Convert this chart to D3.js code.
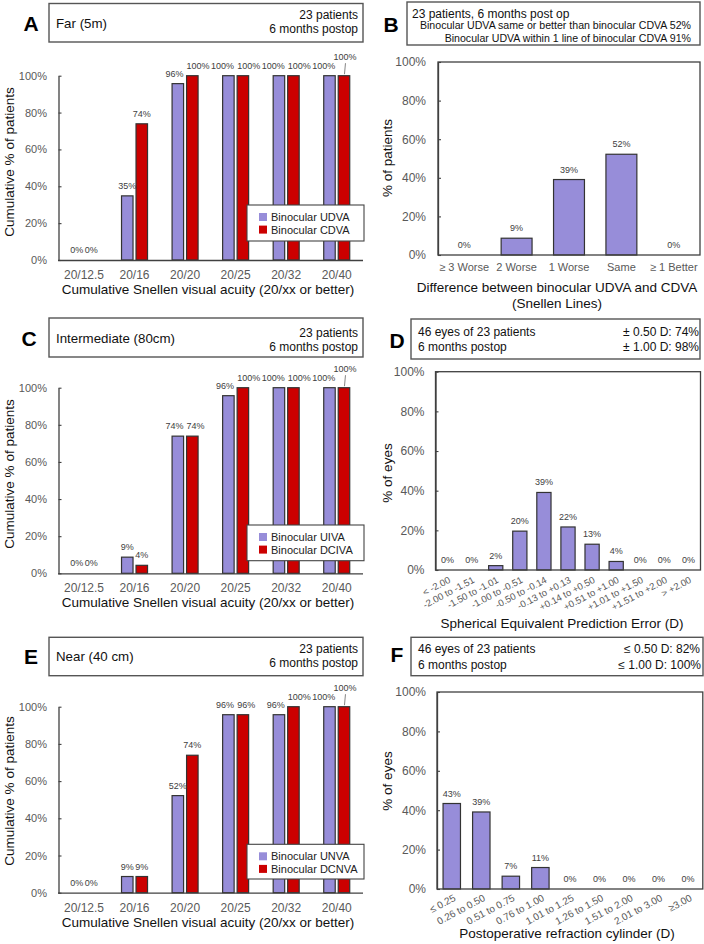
<!DOCTYPE html>
<html><head><meta charset="utf-8">
<script src="https://cdn.jsdelivr.net/npm/d3@7"></script>
<style>
body{margin:0;background:#fff}
svg{display:block}
text{font-family:"Liberation Sans",Arial,Helvetica,sans-serif}
</style></head><body><svg id="c" width="704" height="944"></svg>
<script>
// ---------------- DATA ----------------
const snellenCats = ["20/12.5","20/16","20/20","20/25","20/32","20/40"];
const farUDVA   = [0, 34.8, 95.7, 100, 100, 100];
const farCDVA   = [0, 73.9, 100, 100, 100, 100];
const intUIVA   = [0, 8.7, 73.9, 95.7, 100, 100];
const intDCIVA  = [0, 4.3, 73.9, 100, 100, 100];
const nearUNVA  = [0, 8.7, 52.2, 95.7, 95.7, 100];
const nearDCNVA = [0, 8.7, 73.9, 95.7, 100, 100];

const diffCats = ["\u2265 3 Worse","2 Worse","1 Worse","Same","\u2265 1 Better"];
const diffVals = [0, 8.7, 39.1, 52.2, 0];

const seCats = ["< -2.00","-2.00 to -1.51","-1.50 to -1.01","-1.00 to -0.51","-0.50 to -0.14","-0.13 to +0.13","+0.14 to +0.50","+0.51 to +1.00","+1.01 to +1.50","+1.51 to +2.00","> +2.00"];
const seVals = [0, 0, 2.2, 19.6, 39.1, 21.7, 13.0, 4.3, 0, 0, 0];

const cylCats = ["\u2264 0.25","0.26 to 0.50","0.51 to 0.75","0.76 to 1.00","1.01 to 1.25","1.26 to 1.50","1.51 to 2.00","2.01 to 3.00","\u22653.00"];
const cylVals = [43.4, 39.1, 6.5, 10.9, 0, 0, 0, 0, 0];

const yTicks = [0, 20, 40, 60, 80, 100];

const legendA = ["Binocular UDVA", "Binocular CDVA"];
const legendC = ["Binocular UIVA", "Binocular DCIVA"];
const legendE = ["Binocular UNVA", "Binocular DCNVA"];

const headA = ["Far (5m)", "23 patients", "6 months postop"];
const headC = ["Intermediate (80cm)", "23 patients", "6 months postop"];
const headE = ["Near (40 cm)", "23 patients", "6 months postop"];
const headB = ["23 patients, 6 months post op", "Binocular UDVA same or better than binocular CDVA 52%", "Binocular UDVA within 1 line of binocular CDVA 91%"];
const headD = ["46 eyes of 23 patients", "6 months postop", "\u00b1 0.50 D: 74%", "\u00b1 1.00 D: 98%"];
const headF = ["46 eyes of 23 patients", "6 months postop", "\u2264 0.50 D: 82%", "\u2264 1.00 D: 100%"];

const xTitleSnellen = "Cumulative Snellen visual acuity (20/xx or better)";
const yTitleCum = "Cumulative % of patients";

// ---------------- STYLE ----------------
const PURPLE = "#978DD9", RED = "#CC0000", BAR_STROKE = "#333333";
const AXIS = "#404040", TICK_TXT = "#595959", LBL = "#404040", TITLE = "#111111";

const svg = d3.select("#c");
svg.append("rect").attr("width", 704).attr("height", 944).attr("fill", "#fff");

const fmt = v => Math.round(v) + "%";
const estW = t => ((t.length - 1) * 0.556 + 0.889) * 9;

function txt(x, y, s, size, anchor, fill, weight) {
  return svg.append("text").attr("x", x).attr("y", y).attr("font-size", size)
    .attr("text-anchor", anchor || "start").attr("fill", fill || TITLE)
    .attr("font-weight", weight || "normal").text(s);
}
function vlabel(x, y, s, anchor) { return txt(x, y, s, 9, anchor, LBL); }

function box(x0, y0, x1, y1, sw, stroke) {
  svg.append("rect").attr("x", x0).attr("y", y0).attr("width", x1 - x0).attr("height", y1 - y0)
    .attr("fill", "#fff").attr("stroke", stroke || "#555").attr("stroke-width", sw || 1.4);
}

function styleAxis(g, size) {
  g.attr("font-family", null).attr("font-size", null);
  g.select(".domain").attr("stroke", AXIS).attr("stroke-width", 1.3);
  g.selectAll(".tick line").attr("stroke", AXIS).attr("stroke-width", 1.1);
  g.selectAll(".tick text").attr("fill", TICK_TXT).attr("font-size", size);
}

function yTitle(x, y, s) {
  svg.append("text").attr("transform", `translate(${x},${y}) rotate(-90)`)
    .attr("text-anchor", "middle").attr("font-size", 13.5).attr("fill", TITLE).text(s);
}

// ---------------- LEFT: grouped cumulative charts ----------------
function groupedPanel(p) {
  // header
  txt(p.letterX, p.letterY, p.letter, 21, "middle", "#000", "bold");
  box(49, p.boxTop, 363, p.boxBot);
  txt(56, p.leftBase, p.head[0], 13.3);
  txt(358, p.r1, p.head[1], 12, "end");
  txt(358, p.r2, p.head[2], 12, "end");

  const y = d3.scaleLinear().domain([0, 100]).range([p.y0, p.y100]);
  const x = d3.scaleBand().domain(snellenCats).range([58.7, 362]);
  const xs = d3.scaleBand().domain([0, 1]).range([-13, 13]).paddingInner(0.207);
  const series = [p.s1, p.s2], colors = [PURPLE, RED];

  series.forEach((s, k) => {
    svg.append("g").selectAll("rect").data(snellenCats.map((c, i) => ({ c, v: s[i] })).filter(d => d.v > 0))
      .join("rect")
      .attr("x", d => x(d.c) + x.bandwidth() / 2 + xs(k))
      .attr("y", d => y(d.v))
      .attr("width", xs.bandwidth())
      .attr("height", d => p.y0 - y(d.v))
      .attr("fill", colors[k]).attr("stroke", BAR_STROKE).attr("stroke-width", 1.2);
  });

  const gy = svg.append("g").attr("transform", "translate(58.5,0)")
    .call(d3.axisLeft(y).tickValues(yTicks).tickFormat(d => d + "%").tickSizeInner(-3).tickSizeOuter(0).tickPadding(11.5));
  styleAxis(gy, 11);
  const gx = svg.append("g").attr("transform", `translate(0,${p.y0})`)
    .call(d3.axisBottom(x).tickSize(0).tickPadding(10.5));
  styleAxis(gx, 12);
  gx.select(".domain").attr("d", `M58,0.5H363`);

  // value labels
  const n = snellenCats.length;
  snellenCats.forEach((cat, i) => {
    const c = x(cat) + x.bandwidth() / 2;
    const a = p.s1[i], b = p.s2[i];
    const xa = c + xs(0) + xs.bandwidth() / 2, xb = c + xs(1) + xs.bandwidth() / 2;
    const ya = y(a) - 7, yb = y(b) - 7;
    const ta = fmt(a), tb = fmt(b);
    const collide = (estW(ta) + estW(tb)) / 2 > (xb - xa) - 1 && Math.abs(ya - yb) < 9;
    if (i === n - 1) {
      vlabel(c - 1.5, ya, ta, "end");
      const ry = y(b) - 16;
      vlabel(xb + 1, ry, tb, "middle");
      svg.append("line").attr("x1", xb + 1.5).attr("y1", ry + 3.5).attr("x2", xb + 0.5).attr("y2", y(b) - 1.5)
        .attr("stroke", "#666").attr("stroke-width", 0.8);
    } else if (collide) {
      vlabel(c - 1.5, ya, ta, "end");
      vlabel(c + 1.5, yb, tb, "start");
    } else {
      vlabel(xa, ya, ta, "middle");
      vlabel(xb, yb, tb, "middle");
    }
  });

  // legend
  const lt = p.legTop;
  box(247, lt, 364, lt + p.legH, 1.1, "#444");
  p.legend.forEach((s, k) => {
    const yy = lt + 12 + k * 12.6;
    svg.append("rect").attr("x", 259).attr("y", yy - 4).attr("width", 8).attr("height", 8).attr("fill", colors[k]);
    txt(271, yy + 4, s, 11, "start", "#222");
  });

  txt(208, p.y0 + 34, xTitleSnellen, 13.5, "middle");
  yTitle(13.7, p.yTitleY, yTitleCum);
}

groupedPanel({ letter: "A", letterX: 31, letterY: 30.5, boxTop: 3.5, boxBot: 42, leftBase: 28, r1: 18.5, r2: 32.8,
  head: headA, y0: 260, y100: 75.7, s1: farUDVA, s2: farCDVA, legend: legendA, legTop: 205, legH: 36, yTitleY: 162 });
groupedPanel({ letter: "C", letterX: 29, letterY: 345.5, boxTop: 318, boxBot: 357, leftBase: 342.7, r1: 337, r2: 351,
  head: headC, y0: 573.3, y100: 387.7, s1: intUIVA, s2: intDCIVA, legend: legendC, legTop: 525, legH: 35.7, yTitleY: 474 });
groupedPanel({ letter: "E", letterX: 31, letterY: 664, boxTop: 637.3, boxBot: 675.7, leftBase: 661.4, r1: 652.6, r2: 666.6,
  head: headE, y0: 892.7, y100: 706.7, s1: nearUNVA, s2: nearDCNVA, legend: legendE, legTop: 844.3, legH: 34.7, yTitleY: 791 });

// ---------------- RIGHT: framed single-series charts ----------------
function framedPanel(p) {
  const y = d3.scaleLinear().domain([0, 100]).range([p.y0, p.y100]);
  const x = d3.scaleBand().domain(p.cats).range([p.x0, p.x1]).paddingInner(0.41).paddingOuter(0.205);

  svg.append("g").selectAll("rect").data(p.cats.map((c, i) => ({ c, v: p.vals[i] })).filter(d => d.v > 0))
    .join("rect")
    .attr("x", d => x(d.c)).attr("y", d => y(d.v))
    .attr("width", x.bandwidth()).attr("height", d => p.y0 - y(d.v))
    .attr("fill", PURPLE).attr("stroke", BAR_STROKE).attr("stroke-width", 1.2);

  svg.append("rect").attr("x", p.x0).attr("y", p.y100).attr("width", p.x1 - p.x0).attr("height", p.y0 - p.y100)
    .attr("fill", "none").attr("stroke", AXIS).attr("stroke-width", 1.3);

  const gy = svg.append("g").attr("transform", `translate(${p.x0},0)`)
    .call(d3.axisLeft(y).tickValues(yTicks).tickFormat(d => d + "%").tickSizeInner(-3).tickSizeOuter(0).tickPadding(p.yPad));
  styleAxis(gy, 12);

  const gx = svg.append("g").attr("transform", `translate(0,${p.y0})`)
    .call(d3.axisBottom(x).tickSize(0).tickPadding(p.xPad || 8));
  styleAxis(gx, p.xFont);
  gx.select(".domain").remove();
  if (p.rotate) {
    gx.selectAll(".tick text").attr("x", 0).attr("y", 0).attr("dy", "0.35em")
      .attr("text-anchor", "end").attr("transform", `translate(${p.rdx},${p.rdy}) rotate(-28)`);
  }

  p.cats.forEach((c, i) => {
    vlabel(x(c) + x.bandwidth() / 2, y(p.vals[i]) - 7, fmt(p.vals[i]), "middle");
  });

  yTitle(392, p.yTitleY, p.yTitle);
  p.xTitle.forEach((s, k) => txt(p.xTitleX, p.xTitleY + k * 16.5, s, 13.5, "middle"));
}

// B header
txt(391, 31.7, "B", 21, "middle", "#000", "bold");
box(407, 2, 700, 45);
txt(412, 17.5, headB[0], 12);
txt(691, 29, headB[1], 10.6, "end");
txt(691, 41.5, headB[2], 10.6, "end");
framedPanel({ cats: diffCats, vals: diffVals, x0: 438, x1: 700, y0: 255, y100: 62, yPad: 12, xFont: 11, xPad: 8,
  yTitle: "% of patients", yTitleY: 158, xTitle: ["Difference between binocular UDVA and CDVA", "(Snellen Lines)"], xTitleX: 557, xTitleY: 291.5 });

// D header
txt(397, 347.5, "D", 21, "middle", "#000", "bold");
box(411, 319, 700, 359);
txt(418, 336.3, headD[0], 12);
txt(418, 350.5, headD[1], 12);
txt(699, 336.3, headD[2], 12, "end");
txt(699, 350.5, headD[3], 12, "end");
framedPanel({ cats: seCats, vals: seVals, x0: 435.5, x1: 700.5, y0: 570, y100: 371.7, yPad: 11, xFont: 9.5, rotate: true, rdx: 2, rdy: 9,
  yTitle: "% of eyes", yTitleY: 473, xTitle: ["Spherical Equivalent Prediction Error (D)"], xTitleX: 562, xTitleY: 628 });

// F header
txt(397, 661.5, "F", 21, "middle", "#000", "bold");
box(411, 637.3, 703, 675.7);
txt(418, 652.8, headF[0], 12);
txt(418, 668.8, headF[1], 12);
txt(700, 652.8, headF[2], 12, "end");
txt(701, 668.8, headF[3], 12, "end");
framedPanel({ cats: cylCats, vals: cylVals, x0: 437, x1: 702.8, y0: 889, y100: 692, yPad: 11, xFont: 10, rotate: true, rdx: 3, rdy: 8,
  yTitle: "% of eyes", yTitleY: 781, xTitle: ["Postoperative refraction cylinder (D)"], xTitleX: 567, xTitleY: 938 });
</script></body></html>
